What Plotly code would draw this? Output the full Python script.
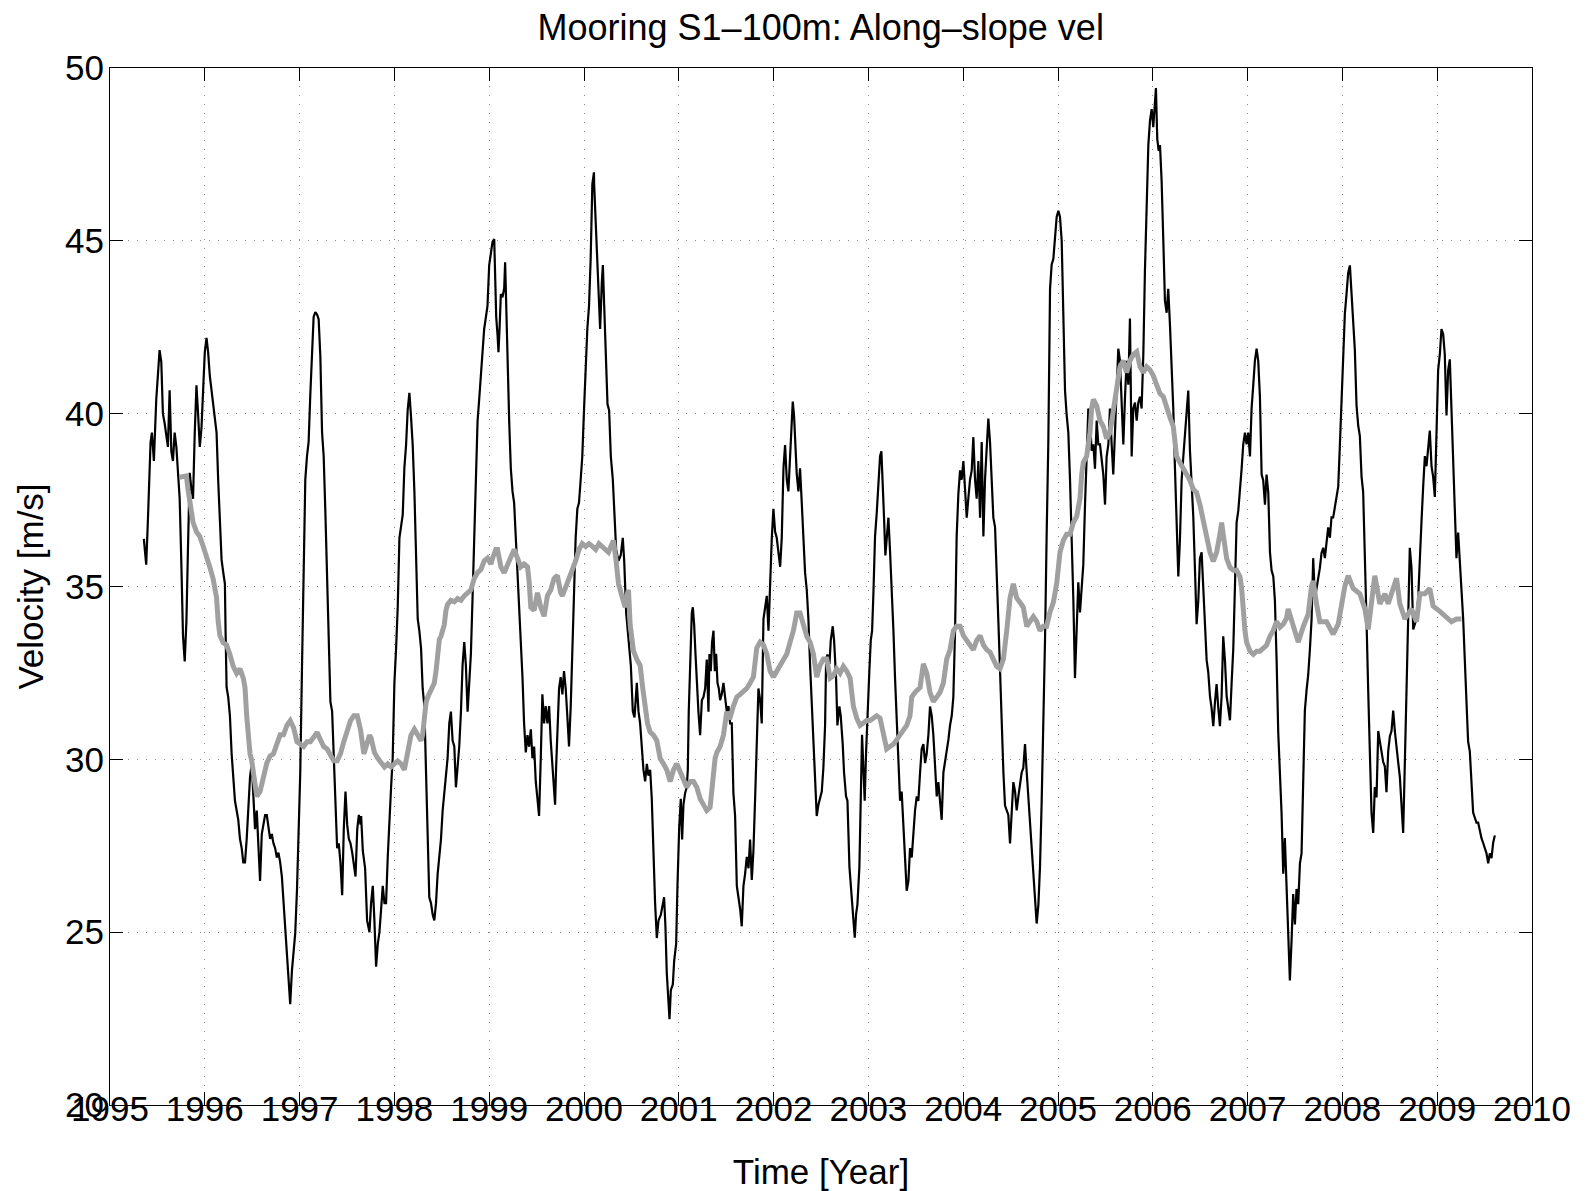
import plotly.graph_objects as go

# ---------------- data ----------------
black_year = [
    1995.357, 1995.382, 1995.399, 1995.428, 1995.442, 1995.463, 1995.488, 1995.523, 1995.541, 1995.558,
    1995.576, 1995.594, 1995.611, 1995.629, 1995.647, 1995.664, 1995.682, 1995.700, 1995.717, 1995.735,
    1995.753, 1995.770, 1995.788, 1995.806, 1995.823, 1995.841, 1995.859, 1995.876, 1995.894, 1995.912,
    1995.929, 1995.947, 1995.965, 1995.982, 1996.000, 1996.018, 1996.035, 1996.053, 1996.071, 1996.088,
    1996.106, 1996.124, 1996.141, 1996.159, 1996.177, 1996.194, 1996.212, 1996.219, 1996.230, 1996.247,
    1996.265, 1996.283, 1996.300, 1996.318, 1996.336, 1996.353, 1996.371, 1996.389, 1996.406, 1996.424,
    1996.442, 1996.459, 1996.477, 1996.495, 1996.512, 1996.530, 1996.548, 1996.565, 1996.583, 1996.601,
    1996.618, 1996.636, 1996.654, 1996.671, 1996.689, 1996.707, 1996.724, 1996.742, 1996.760, 1996.777,
    1996.795, 1996.813, 1996.830, 1996.848, 1996.866, 1996.883, 1996.901, 1996.919, 1996.936, 1996.954,
    1996.972, 1996.989, 1997.007, 1997.025, 1997.042, 1997.060, 1997.078, 1997.095, 1997.113, 1997.131,
    1997.148, 1997.166, 1997.184, 1997.201, 1997.219, 1997.237, 1997.254, 1997.272, 1997.290, 1997.307,
    1997.325, 1997.343, 1997.360, 1997.378, 1997.396, 1997.413, 1997.431, 1997.449, 1997.466, 1997.484,
    1997.502, 1997.519, 1997.537, 1997.555, 1997.572, 1997.590, 1997.608, 1997.625, 1997.643,
    1997.649, 1997.667, 1997.691, 1997.712, 1997.737, 1997.754, 1997.772, 1997.789, 1997.807, 1997.825,
    1997.842, 1997.860, 1997.877, 1997.895, 1997.912, 1997.930, 1997.947, 1997.965, 1997.982, 1998.000,
    1998.018, 1998.035, 1998.053, 1998.070, 1998.088, 1998.105, 1998.123, 1998.140, 1998.158, 1998.175,
    1998.193, 1998.211, 1998.228, 1998.246, 1998.263, 1998.281, 1998.298, 1998.316, 1998.333, 1998.351,
    1998.368, 1998.386, 1998.404, 1998.421, 1998.439, 1998.456, 1998.474, 1998.491, 1998.509, 1998.526,
    1998.544, 1998.561, 1998.579, 1998.596, 1998.614, 1998.632, 1998.649, 1998.667, 1998.684, 1998.702,
    1998.719, 1998.737, 1998.754, 1998.772, 1998.789, 1998.807, 1998.825, 1998.842, 1998.860, 1998.877,
    1998.895, 1998.912, 1998.930, 1998.947, 1998.965, 1998.982, 1999.000, 1999.018, 1999.035, 1999.053,
    1999.063, 1999.074, 1999.088, 1999.098, 1999.109, 1999.123, 1999.140, 1999.158, 1999.168, 1999.179,
    1999.193, 1999.211, 1999.228, 1999.246, 1999.263, 1999.281, 1999.298, 1999.316, 1999.333, 1999.351,
    1999.368, 1999.386, 1999.404, 1999.421, 1999.439, 1999.456, 1999.474, 1999.491, 1999.509, 1999.526,
    1999.544, 1999.561, 1999.579, 1999.596, 1999.614, 1999.632, 1999.649, 1999.667, 1999.684, 1999.695,
    1999.705, 1999.719, 1999.737, 1999.754, 1999.772, 1999.789, 1999.807, 1999.825, 1999.842, 1999.860,
    1999.877, 1999.895, 1999.912, 1999.930, 1999.947, 1999.965, 1999.982, 2000.000, 2000.018, 2000.035,
    2000.053, 2000.070, 2000.088, 2000.105,
    2000.107, 2000.135, 2000.153, 2000.170, 2000.188, 2000.199, 2000.213, 2000.230, 2000.248, 2000.265,
    2000.283, 2000.304, 2000.318, 2000.339, 2000.364, 2000.388, 2000.409, 2000.424, 2000.445, 2000.469,
    2000.494, 2000.515, 2000.533, 2000.557, 2000.575, 2000.592, 2000.610, 2000.627, 2000.645, 2000.663,
    2000.680, 2000.698, 2000.715, 2000.733, 2000.750, 2000.768, 2000.786, 2000.810, 2000.831, 2000.845,
    2000.859, 2000.873, 2000.891, 2000.902, 2000.916, 2000.937, 2000.951, 2000.972, 2000.986, 2001.004,
    2001.021, 2001.035, 2001.049, 2001.067, 2001.084, 2001.095, 2001.105, 2001.120, 2001.137, 2001.148,
    2001.162, 2001.176, 2001.190, 2001.207, 2001.225, 2001.243, 2001.260, 2001.278, 2001.295, 2001.313,
    2001.323, 2001.337, 2001.351, 2001.366, 2001.380, 2001.394, 2001.408, 2001.422, 2001.436, 2001.453,
    2001.471, 2001.489, 2001.506, 2001.524, 2001.541, 2001.559, 2001.576, 2001.594, 2001.612, 2001.629,
    2001.647, 2001.664, 2001.682, 2001.699, 2001.717, 2001.735, 2001.752, 2001.770, 2001.787, 2001.805,
    2001.822, 2001.840, 2001.858, 2001.875, 2001.893, 2001.910, 2001.928, 2001.946, 2001.963, 2001.981,
    2001.998, 2002.016, 2002.033, 2002.051, 2002.069, 2002.086, 2002.104, 2002.121, 2002.139, 2002.156,
    2002.174, 2002.192, 2002.202, 2002.216, 2002.230, 2002.244, 2002.262, 2002.279, 2002.297, 2002.315,
    2002.332, 2002.350, 2002.367, 2002.385, 2002.402, 2002.420, 2002.438, 2002.455, 2002.473, 2002.490,
    2002.508, 2002.525, 2002.543, 2002.554, 2002.568, 2002.589, 2002.603, 2002.624, 2002.638, 2002.659,
    2002.673, 2002.694, 2002.708, 2002.729, 2002.743, 2002.764, 2002.779, 2002.800, 2002.814, 2002.828,
    2002.842, 2002.856, 2002.870, 2002.884, 2002.905, 2002.919, 2002.933, 2002.947, 2002.961, 2002.975,
    2002.989, 2003.011, 2003.025, 2003.039, 2003.053, 2003.070, 2003.088, 2003.105, 2003.123, 2003.137,
    2003.151, 2003.165, 2003.179, 2003.193, 2003.211, 2003.228, 2003.246, 2003.264, 2003.281, 2003.299,
    2003.316, 2003.334, 2003.351, 2003.369, 2003.387, 2003.404, 2003.422, 2003.439, 2003.457, 2003.475,
    2003.492, 2003.510, 2003.527, 2003.545, 2003.562, 2003.580, 2003.598, 2003.615, 2003.633, 2003.650,
    2003.668, 2003.685, 2003.703, 2003.721, 2003.738, 2003.756, 2003.773, 2003.791, 2003.808, 2003.826,
    2003.844, 2003.861, 2003.879, 2003.896, 2003.914, 2003.931, 2003.949, 2003.967, 2003.984, 2004.002,
    2004.019, 2004.037, 2004.054, 2004.072, 2004.090, 2004.107, 2004.125, 2004.142, 2004.160, 2004.178,
    2004.195, 2004.213, 2004.230, 2004.248, 2004.265, 2004.283, 2004.301, 2004.318, 2004.336, 2004.353,
    2004.371, 2004.388, 2004.406, 2004.424, 2004.441, 2004.459, 2004.476, 2004.494, 2004.511, 2004.529,
    2004.547, 2004.564, 2004.582, 2004.599, 2004.617, 2004.634, 2004.652, 2004.670, 2004.687, 2004.705,
    2004.722, 2004.740, 2004.757, 2004.775, 2004.793, 2004.810, 2004.828, 2004.845, 2004.863, 2004.880,
    2004.898,
    2004.916, 2004.933, 2004.951, 2004.968, 2004.986, 2005.004, 2005.021, 2005.039, 2005.056, 2005.074,
    2005.091, 2005.109, 2005.127, 2005.144, 2005.162, 2005.179, 2005.197, 2005.214, 2005.232, 2005.250,
    2005.267, 2005.285, 2005.302, 2005.320, 2005.337, 2005.355, 2005.373, 2005.390, 2005.408, 2005.425,
    2005.443, 2005.460, 2005.478, 2005.496, 2005.513, 2005.531, 2005.548, 2005.566, 2005.583, 2005.601,
    2005.619, 2005.636, 2005.654, 2005.671, 2005.689, 2005.707, 2005.724, 2005.742, 2005.759, 2005.777,
    2005.794, 2005.812, 2005.830, 2005.847, 2005.865, 2005.882, 2005.900, 2005.917, 2005.935, 2005.953,
    2005.970, 2005.988, 2006.005, 2006.023, 2006.033, 2006.047, 2006.062, 2006.076, 2006.093, 2006.111,
    2006.128, 2006.146, 2006.163, 2006.181, 2006.199, 2006.216, 2006.234, 2006.251, 2006.269, 2006.286,
    2006.304, 2006.322, 2006.339, 2006.357, 2006.374, 2006.392, 2006.409, 2006.427, 2006.445, 2006.462,
    2006.480, 2006.497, 2006.515, 2006.533, 2006.550, 2006.568, 2006.585, 2006.603, 2006.620, 2006.638,
    2006.656, 2006.673, 2006.691, 2006.708, 2006.726, 2006.743, 2006.761, 2006.779, 2006.796, 2006.814,
    2006.831, 2006.849, 2006.866, 2006.884, 2006.902, 2006.919, 2006.937, 2006.954, 2006.972, 2006.989,
    2007.007, 2007.025, 2007.042, 2007.060, 2007.077, 2007.095, 2007.112, 2007.130, 2007.148, 2007.165,
    2007.183, 2007.200, 2007.218, 2007.236, 2007.253, 2007.271, 2007.288, 2007.306, 2007.323,
    2007.358, 2007.376, 2007.393, 2007.411, 2007.428, 2007.446, 2007.464, 2007.481, 2007.499, 2007.516,
    2007.534, 2007.552, 2007.569, 2007.587, 2007.604, 2007.622, 2007.639, 2007.657, 2007.675, 2007.692,
    2007.710, 2007.727, 2007.745, 2007.762, 2007.780, 2007.798, 2007.815, 2007.833, 2007.850, 2007.868,
    2007.885, 2007.903, 2007.921, 2007.938, 2007.956, 2007.973, 2007.991, 2008.008, 2008.026, 2008.044,
    2008.061, 2008.079, 2008.096, 2008.114, 2008.131, 2008.149, 2008.167, 2008.184, 2008.202, 2008.219,
    2008.237, 2008.254, 2008.272, 2008.290, 2008.307, 2008.325, 2008.342, 2008.360, 2008.378, 2008.395,
    2008.413, 2008.430, 2008.448, 2008.465, 2008.483, 2008.501, 2008.518, 2008.536, 2008.553, 2008.571,
    2008.588, 2008.606, 2008.624, 2008.641, 2008.659, 2008.676, 2008.694, 2008.711, 2008.729, 2008.747,
    2008.764, 2008.782, 2008.799, 2008.817, 2008.834, 2008.852, 2008.870, 2008.887, 2008.905, 2008.922,
    2008.940, 2008.957, 2008.975, 2008.993, 2009.010, 2009.028, 2009.045, 2009.063, 2009.080, 2009.098,
    2009.116, 2009.133, 2009.151, 2009.168, 2009.186, 2009.203, 2009.221, 2009.239, 2009.256, 2009.274,
    2009.291, 2009.309, 2009.326, 2009.344, 2009.362, 2009.379, 2009.397, 2009.414, 2009.432, 2009.450,
    2009.467, 2009.485, 2009.502, 2009.520, 2009.538, 2009.555, 2009.573, 2009.590, 2009.608,
]

black_vel = [
    36.38, 35.63, 36.86, 39.18, 39.45, 38.63, 40.41, 41.84, 41.50, 40.00,
    39.73, 39.32, 39.04, 40.68, 38.91, 38.63, 39.45, 39.04, 38.36, 37.54,
    35.63, 33.58, 32.83, 33.99, 36.17, 38.29, 37.81, 37.54, 39.45, 40.82,
    40.00, 39.04, 39.59, 40.82, 41.78, 42.19, 41.78, 41.09, 40.68, 40.14,
    39.86, 39.45, 38.09, 36.86, 35.77, 35.42, 35.08, 33.72, 32.08, 31.80,
    31.26, 30.16, 29.34, 28.80, 28.52, 28.25, 27.70, 27.43, 27.02, 27.02,
    27.70, 28.66, 29.48, 29.89, 28.93, 27.98, 28.52, 27.43, 26.48, 27.84,
    28.11, 28.39, 28.39, 28.11, 27.70, 27.84, 27.57, 27.43, 27.16, 27.30,
    27.02, 26.61, 25.93, 25.25, 24.43, 23.88, 22.92, 23.88, 24.43, 24.97,
    26.20, 27.57, 29.62, 32.62, 35.63, 38.09, 38.77, 39.18, 40.55, 41.91,
    42.80, 42.94, 42.87, 42.73, 41.64, 39.45, 38.77, 37.13, 35.08, 33.17,
    31.67, 31.39, 30.03, 28.25, 27.43, 27.57, 27.02, 26.07, 27.98, 29.07,
    28.11, 27.70, 27.57, 27.30, 26.89, 26.61, 27.98, 28.39, 28.11,
    28.36, 27.35, 26.85, 25.34, 25.00, 25.84, 26.34, 25.34, 24.00, 24.66,
    25.00, 25.67, 26.34, 25.84, 25.84, 27.18, 28.36, 29.19, 30.03, 32.21,
    33.22, 34.40, 36.41, 36.74, 37.08, 38.42, 39.09, 40.10, 40.60, 39.93,
    39.09, 37.75, 36.07, 34.06, 33.72, 33.22, 32.05, 31.54, 29.70, 28.02,
    26.01, 25.84, 25.50, 25.34, 25.84, 26.68, 27.18, 27.68, 28.52, 29.03,
    29.70, 30.03, 31.04, 31.38, 30.54, 30.37, 29.19, 29.70, 30.37, 31.38,
    32.72, 33.39, 32.72, 31.38, 32.05, 33.05, 34.73, 36.41, 38.09, 39.77,
    40.44, 41.11, 41.78, 42.45, 42.79, 43.12, 44.30, 44.63, 44.97, 45.05,
    43.96, 42.79, 42.28, 41.78, 42.45, 43.46, 43.37, 43.62, 44.38, 43.12,
    41.44, 39.77, 38.42, 37.75, 37.42, 36.41, 35.40, 34.40, 33.56, 32.38,
    31.04, 30.20, 30.70, 30.37, 30.87, 30.03, 30.37, 29.36, 28.86, 28.36,
    30.03, 31.88, 31.04, 31.54, 31.04, 31.54, 30.54, 29.70, 28.86, 28.69,
    29.70, 31.04, 32.05, 32.38, 31.88, 32.55, 32.05, 31.21, 30.37, 31.54,
    33.05, 35.07, 36.41, 37.25, 37.42, 38.09, 38.76, 40.10, 41.44, 42.45,
    43.12, 44.46, 46.64, 46.98,
    46.64, 44.80, 43.29, 42.45, 43.79, 44.30, 43.12, 41.44, 40.27, 40.10,
    38.76, 38.09, 37.42, 36.07, 35.74, 35.91, 36.41, 35.74, 34.23, 33.39,
    32.72, 31.38, 31.21, 32.21, 31.38, 31.04, 30.37, 29.70, 29.36, 29.87,
    29.53, 29.70, 28.86, 27.01, 25.84, 24.83, 25.34, 25.50, 25.84, 26.01,
    25.17, 23.83, 22.99, 22.48, 23.32, 23.49, 24.16, 24.66, 26.34, 28.02,
    28.86, 27.68, 28.69, 29.03, 29.19, 29.70, 31.38, 33.05, 34.23, 34.40,
    33.89, 33.05, 32.21, 31.38, 30.70, 31.71, 31.80, 32.05, 32.89, 31.38,
    33.05, 32.55, 33.39, 33.72, 32.55, 33.05, 32.21, 32.05, 31.71, 31.88,
    32.21, 31.71, 31.38, 31.54, 31.04, 31.04, 29.03, 28.36, 26.34, 26.01,
    25.67, 25.17, 26.34, 26.68, 27.18, 26.85, 27.68, 26.51, 27.35, 28.86,
    30.37, 32.05, 31.71, 31.04, 34.06, 34.40, 34.73, 33.72, 35.40, 36.41,
    37.25, 36.58, 36.41, 35.91, 35.57, 36.41, 38.42, 39.09, 38.09, 37.75,
    38.76, 39.93, 40.35, 39.93, 38.93, 38.26, 37.75, 38.42, 37.42, 36.41,
    35.40, 34.90, 34.06, 32.72, 31.71, 30.54, 29.70, 28.36, 28.69, 28.86,
    29.07, 29.75, 30.98, 32.90, 33.03, 32.76, 33.44, 33.85, 33.44, 32.35,
    30.98, 31.53, 31.26, 30.44, 29.62, 28.93, 28.80, 26.89, 26.34, 25.93,
    25.52, 24.84, 25.52, 25.79, 26.89, 28.80, 30.71, 29.75, 28.80, 30.16,
    31.26, 32.62, 33.44, 33.72, 34.81, 36.45, 37.13, 37.81, 38.77, 38.91,
    38.09, 36.99, 35.90, 36.45, 36.99, 36.04, 35.08, 33.72, 32.35, 30.98,
    29.62, 28.80, 29.07, 27.98, 26.89, 26.20, 26.48, 27.43, 27.16, 27.98,
    28.52, 28.93, 28.80, 29.62, 30.30, 30.44, 29.89, 30.16, 30.71, 31.53,
    31.26, 30.71, 29.62, 28.93, 29.34, 28.80, 28.25, 29.62, 29.89, 30.16,
    30.57, 30.98, 31.26, 31.80, 33.72, 36.45, 37.68, 38.36, 38.09, 38.63,
    37.81, 36.99, 37.54, 38.09, 38.36, 39.32, 38.09, 37.54, 38.63, 36.99,
    39.18, 36.45, 38.09, 38.91, 39.86, 39.18, 38.09, 36.99, 36.72, 35.63,
    33.99, 32.62, 30.98, 29.62, 28.66, 28.52, 28.39, 27.57, 28.52, 29.34,
    29.07, 28.52, 28.93, 29.34, 29.62, 29.75, 30.44, 29.62, 28.93, 28.25,
    27.57, 26.89, 26.07, 25.25, 25.79, 26.89, 28.80, 30.98, 33.44, 36.45,
    39.18,
    43.61, 44.31, 44.48, 45.17, 45.69, 45.87, 45.69, 45.00, 42.92, 40.67,
    39.97, 39.45, 38.07, 36.68, 34.60, 32.35, 33.56, 35.12, 34.25, 34.95,
    35.64, 37.37, 38.76, 40.15, 39.80, 38.93, 39.11, 38.41, 39.80, 39.11,
    39.11, 38.59, 38.24, 37.37, 38.76, 39.11, 40.15, 39.11, 38.24, 39.45,
    40.49, 41.88, 41.53, 40.49, 39.11, 40.49, 41.53, 40.84, 42.75, 38.76,
    40.15, 40.32, 39.80, 40.32, 40.49, 40.15, 41.71, 44.13, 46.21, 47.77,
    48.47, 48.81, 48.29, 49.16, 49.42, 47.95, 47.60, 47.77, 46.73, 45.00,
    43.27, 42.92, 43.61, 42.57, 41.53, 40.15, 38.41, 36.68, 35.29, 36.33,
    38.07, 38.76, 39.45, 40.15, 40.67, 38.93, 38.07, 37.03, 35.47, 33.91,
    34.60, 35.81, 35.99, 34.95, 33.73, 32.87, 32.52, 31.83, 31.48, 30.96,
    31.66, 32.18, 31.48, 30.96, 31.83, 33.56, 32.87, 31.83, 31.48, 31.13,
    32.18, 33.21, 34.95, 36.85, 37.20, 37.72, 38.41, 39.11, 39.45, 39.11,
    39.45, 38.76, 40.15, 40.84, 41.53, 41.88, 41.53, 40.49, 38.24, 38.07,
    37.37, 38.24, 37.72, 35.99, 35.47, 35.29, 34.60, 32.87, 30.79,
    28.46, 26.69, 27.72, 26.40, 24.93, 23.60, 24.78, 26.10, 25.22, 26.25,
    25.81, 26.99, 27.28, 29.93, 31.41, 32.00, 32.44, 33.17, 34.06, 35.82,
    34.65, 34.94, 35.24, 35.53, 35.97, 36.12, 35.82, 36.41, 36.71, 36.41,
    37.00, 37.00, 37.30, 37.59, 37.89, 39.06, 40.24, 41.72, 42.89, 43.48,
    44.07, 44.29, 43.48, 42.45, 41.86, 40.24, 39.65, 39.36, 38.18, 37.74,
    36.12, 34.06, 32.00, 30.23, 28.46, 27.87, 29.20, 28.90, 30.82, 30.52,
    30.23, 29.93, 29.79, 29.05, 30.23, 30.67, 30.82, 31.41, 30.82, 30.23,
    29.93, 29.49, 28.46, 27.87, 29.93, 32.00, 34.06, 36.12, 35.53, 33.76,
    33.91, 34.06, 34.65, 35.97, 36.86, 37.89, 38.77, 38.48, 39.06, 39.51,
    38.48, 38.18, 37.59, 39.95, 41.27, 41.72, 42.45, 42.30, 41.72, 39.95,
    41.27, 41.57, 39.95, 38.77, 37.30, 35.82, 36.56, 35.82, 35.09, 34.06,
    32.88, 31.55, 30.52, 30.23, 29.20, 28.46, 28.31, 28.17, 28.17, 27.87,
    27.72, 27.58, 27.43, 27.28, 26.99, 27.28, 27.14, 27.58, 27.80,
]

gray_year = [
    1995.735, 1995.806, 1995.823, 1995.841, 1995.876, 1995.912, 1995.947, 1995.982, 1996.018, 1996.053,
    1996.088, 1996.124, 1996.141, 1996.159, 1996.194, 1996.230, 1996.265, 1996.300, 1996.336, 1996.371,
    1996.406, 1996.424, 1996.442, 1996.459, 1996.477, 1996.495, 1996.530, 1996.548, 1996.583, 1996.618,
    1996.654, 1996.689, 1996.724, 1996.760, 1996.795, 1996.830, 1996.866, 1996.901, 1996.936, 1996.972,
    1997.007, 1997.042, 1997.078, 1997.113, 1997.148, 1997.184, 1997.219, 1997.254, 1997.290, 1997.325,
    1997.360, 1997.396, 1997.431, 1997.466, 1997.502, 1997.537, 1997.572, 1997.608, 1997.643, 1997.678,
    1997.702, 1997.719, 1997.737, 1997.754, 1997.789, 1997.825, 1997.860, 1997.895, 1997.930, 1997.965,
    1998.000, 1998.035, 1998.070, 1998.105, 1998.140, 1998.175, 1998.211, 1998.246, 1998.281, 1998.298,
    1998.316, 1998.333, 1998.351, 1998.386, 1998.421, 1998.439, 1998.456, 1998.474, 1998.491, 1998.526,
    1998.544, 1998.561, 1998.596, 1998.632, 1998.667, 1998.702, 1998.737, 1998.772, 1998.807, 1998.842,
    1998.877, 1998.912, 1998.947, 1998.982, 1999.018, 1999.035, 1999.053, 1999.070, 1999.088, 1999.105,
    1999.123, 1999.158, 1999.193, 1999.228, 1999.263, 1999.298, 1999.333, 1999.368, 1999.404, 1999.421,
    1999.439, 1999.474, 1999.509, 1999.544, 1999.579, 1999.614, 1999.649, 1999.684, 1999.719, 1999.754,
    1999.772, 1999.807, 1999.842, 1999.877, 1999.912, 1999.947, 1999.982, 2000.018, 2000.053, 2000.088,
    2000.123, 2000.158, 2000.188, 2000.223, 2000.258, 2000.283, 2000.311, 2000.339, 2000.364, 2000.399,
    2000.434, 2000.452, 2000.469, 2000.487, 2000.504, 2000.522, 2000.557, 2000.592, 2000.620, 2000.645,
    2000.670, 2000.698, 2000.733, 2000.768, 2000.803, 2000.838, 2000.873, 2000.909, 2000.944, 2000.979,
    2001.007, 2001.032, 2001.049, 2001.084, 2001.120, 2001.155, 2001.190, 2001.225, 2001.260, 2001.295,
    2001.330, 2001.348, 2001.366, 2001.383, 2001.401, 2001.436, 2001.471, 2001.489, 2001.506, 2001.524,
    2001.541, 2001.576, 2001.612, 2001.647, 2001.682, 2001.717, 2001.752, 2001.787, 2001.822, 2001.858,
    2001.893, 2001.928, 2001.963, 2001.998, 2002.033, 2002.069, 2002.104, 2002.139, 2002.174, 2002.209,
    2002.244, 2002.279, 2002.315, 2002.350, 2002.385, 2002.420, 2002.455, 2002.490, 2002.525, 2002.561,
    2002.596, 2002.631, 2002.666, 2002.701, 2002.736, 2002.772, 2002.807, 2002.842, 2002.877, 2002.912,
    2002.947, 2002.982, 2003.018, 2003.053, 2003.088, 2003.123, 2003.158, 2003.193, 2003.228, 2003.264,
    2003.299, 2003.334, 2003.369, 2003.404, 2003.439, 2003.457, 2003.492, 2003.545, 2003.580, 2003.615,
    2003.650, 2003.685, 2003.721, 2003.756, 2003.791, 2003.826, 2003.861, 2003.896, 2003.931, 2003.967,
    2004.002, 2004.037, 2004.072, 2004.107, 2004.142, 2004.178, 2004.213, 2004.248, 2004.283, 2004.318,
    2004.353, 2004.388, 2004.424, 2004.459, 2004.494, 2004.529, 2004.564, 2004.599, 2004.634, 2004.670,
    2004.705, 2004.740, 2004.775, 2004.810, 2004.845, 2004.880, 2004.915, 2004.951, 2004.986, 2005.021,
    2005.056, 2005.091, 2005.127, 2005.162, 2005.197, 2005.232, 2005.250, 2005.267, 2005.302, 2005.337,
    2005.355, 2005.373, 2005.408, 2005.443, 2005.478, 2005.513, 2005.548, 2005.583, 2005.619, 2005.654,
    2005.689, 2005.724, 2005.759, 2005.794, 2005.830, 2005.865, 2005.900, 2005.935, 2005.970, 2006.005,
    2006.040, 2006.076, 2006.111, 2006.146, 2006.181, 2006.216, 2006.251, 2006.286, 2006.322, 2006.357,
    2006.392, 2006.427, 2006.462, 2006.497, 2006.533, 2006.568, 2006.603, 2006.638, 2006.673, 2006.708,
    2006.726, 2006.743, 2006.779, 2006.814, 2006.849, 2006.884, 2006.919, 2006.937, 2006.954, 2006.972,
    2006.989, 2007.025, 2007.060, 2007.095, 2007.130, 2007.165, 2007.200, 2007.236, 2007.271, 2007.306,
    2007.341, 2007.376, 2007.411, 2007.428, 2007.481, 2007.534, 2007.587, 2007.639, 2007.675, 2007.692,
    2007.727, 2007.762, 2007.833, 2007.903, 2007.956, 2007.991, 2008.026, 2008.061, 2008.114, 2008.184,
    2008.237, 2008.272, 2008.307, 2008.342, 2008.395, 2008.448, 2008.483, 2008.518, 2008.571, 2008.606,
    2008.659, 2008.729, 2008.782, 2008.817, 2008.870, 2008.922, 2008.957, 2009.028, 2009.098, 2009.151,
    2009.203, 2009.256,
]

gray_vel = [
    38.16, 38.20, 37.81, 37.40, 36.86, 36.58, 36.45, 36.17, 35.90, 35.56,
    35.22, 34.67, 33.99, 33.58, 33.37, 33.31, 33.03, 32.69, 32.49, 32.62,
    32.35, 32.08, 31.26, 30.44, 30.16, 29.96, 29.34, 28.93, 29.07, 29.48,
    29.89, 30.10, 30.16, 30.44, 30.71, 30.71, 30.98, 31.12, 30.92, 30.51,
    30.44, 30.37, 30.51, 30.51, 30.64, 30.78, 30.57, 30.37, 30.30, 30.10,
    29.96, 29.96, 30.16, 30.51, 30.85, 31.12, 31.26, 31.26, 30.85, 30.16,
    30.37, 30.54, 30.70, 30.62, 30.20, 30.03, 29.87, 29.78, 29.87, 29.78,
    29.87, 29.95, 29.87, 29.70, 30.20, 30.70, 30.87, 30.70, 30.54, 30.70,
    31.38, 31.63, 31.80, 32.05, 32.21, 32.55, 33.22, 33.47, 33.56, 33.89,
    34.31, 34.48, 34.60, 34.56, 34.65, 34.60, 34.73, 34.82, 34.90, 35.23,
    35.40, 35.49, 35.74, 35.82, 35.65, 35.82, 35.99, 36.07, 36.07, 35.82,
    35.57, 35.40, 35.65, 35.82, 36.07, 35.82, 35.57, 35.65, 35.57, 35.15,
    34.40, 34.31, 34.82, 34.40, 34.14, 34.73, 34.90, 35.23, 35.32, 34.82,
    34.73, 34.98, 35.23, 35.40, 35.74, 36.07, 36.24, 36.16, 36.24, 36.16,
    36.07, 36.24, 36.16, 36.07, 35.99, 36.16, 36.33, 35.74, 35.07, 34.73,
    34.40, 34.73, 34.90, 33.89, 33.39, 33.14, 32.89, 32.72, 32.05, 31.54,
    31.04, 30.79, 30.70, 30.54, 30.03, 29.87, 29.70, 29.36, 29.70, 29.87,
    29.70, 29.53, 29.36, 29.19, 29.36, 29.36, 29.19, 28.86, 28.69, 28.52,
    28.61, 29.19, 29.87, 30.03, 30.20, 30.37, 30.70, 31.04, 31.38, 31.21,
    31.21, 31.54, 31.80, 31.88, 31.96, 32.05, 32.21, 32.38, 33.22, 33.39,
    33.31, 33.05, 32.55, 32.38, 32.55, 32.72, 32.89, 33.05, 33.39, 33.72,
    34.23, 34.23, 33.89, 33.56, 33.39, 33.05, 32.38, 32.72, 32.90, 32.90,
    32.35, 32.42, 32.62, 32.49, 32.69, 32.55, 32.35, 31.53, 31.19, 30.98,
    31.05, 31.12, 31.12, 31.19, 31.26, 31.19, 30.71, 30.30, 30.37, 30.44,
    30.57, 30.71, 30.85, 30.98, 31.26, 31.80, 31.94, 32.08, 32.76, 32.49,
    31.94, 31.67, 31.80, 31.94, 32.21, 32.90, 33.17, 33.72, 33.85, 33.85,
    33.58, 33.44, 33.31, 33.17, 33.44, 33.58, 33.31, 33.17, 33.10, 32.90,
    32.69, 32.62, 32.90, 33.72, 34.67, 35.08, 34.67, 34.54, 34.40, 33.85,
    33.99, 34.13, 33.99, 33.72, 33.85, 33.85, 34.26, 34.54, 35.08, 35.99,
    36.33, 36.51, 36.51, 36.85, 37.03, 37.55, 38.24, 38.59, 38.76, 39.45,
    40.15, 40.41, 40.23, 39.80, 39.63, 39.28, 39.45, 40.15, 40.84, 41.36,
    41.53, 41.19, 41.53, 41.71, 41.79, 41.36, 41.19, 41.36, 41.27, 41.10,
    40.84, 40.58, 40.49, 40.15, 39.89, 39.63, 38.76, 38.59, 38.41, 38.24,
    38.07, 37.81, 37.72, 37.37, 36.85, 36.33, 35.99, 35.73, 35.99, 36.51,
    36.85, 36.51, 35.81, 35.55, 35.47, 35.47, 35.29, 34.95, 34.25, 33.73,
    33.39, 33.13, 33.04, 33.13, 33.13, 33.21, 33.30, 33.56, 33.73, 33.99,
    33.82, 33.91, 34.08, 34.35, 33.91, 33.39, 33.84, 34.20, 35.01, 35.16,
    34.50, 33.98, 33.98, 33.62, 33.91, 34.50, 35.01, 35.31, 34.94, 34.79,
    34.35, 33.76, 34.50, 35.31, 34.50, 34.79, 34.50, 34.79, 35.24, 34.50,
    34.06, 34.35, 33.98, 34.79, 34.79, 34.94, 34.43, 34.28, 34.13, 33.98,
    34.06, 34.06,
]

x_ticks = [1995, 1996, 1997, 1998, 1999, 2000, 2001, 2002, 2003, 2004,
           2005, 2006, 2007, 2008, 2009, 2010]
y_ticks = [20, 25, 30, 35, 40, 45, 50]

title_text = "Mooring S1\u2013100m: Along\u2013slope vel"
x_label = "Time [Year]"
y_label = "Velocity [m/s]"

# ---------------- figure ----------------
FONT = "Liberation Sans, Arial, Helvetica, sans-serif"

fig = go.Figure()
fig.add_trace(go.Scatter(
    x=black_year, y=black_vel, mode="lines",
    line=dict(color="#000000", width=2.2), showlegend=False, hoverinfo="skip"))
fig.add_trace(go.Scatter(
    x=gray_year, y=gray_vel, mode="lines",
    line=dict(color="#a0a0a0", width=5), showlegend=False, hoverinfo="skip"))

axis_common = dict(
    showline=True, linecolor="#000000", linewidth=1, mirror="ticks",
    ticks="inside", ticklen=13, tickwidth=1, tickcolor="#000000",
    showgrid=True, gridcolor="#8c8c8c", gridwidth=1, griddash="1px,8px",
    zeroline=False, automargin=False,
    tickfont=dict(family=FONT, size=35, color="#000000"),
)

fig.update_xaxes(
    range=[1995, 2010], tickvals=x_ticks, ticktext=[str(t) for t in x_ticks],
    ticklabelstandoff=-27,
    title=dict(text=x_label, font=dict(family=FONT, size=35, color="#000000"), standoff=32),
    **axis_common)
fig.update_yaxes(
    range=[20, 50], tickvals=y_ticks, ticktext=[str(t) for t in y_ticks],
    ticklabelstandoff=-2,
    title=dict(text=y_label, font=dict(family=FONT, size=35, color="#000000"), standoff=10),
    **axis_common)

fig.update_layout(
    width=1589, height=1191,
    margin=dict(l=110, r=57, t=68, b=86, pad=0),
    paper_bgcolor="#ffffff", plot_bgcolor="#ffffff",
    title=dict(text=title_text, x=0.5165, xanchor="center", y=0.977, yanchor="middle",
               yref="container", font=dict(family=FONT, size=36, color="#000000")),
    font=dict(family=FONT, color="#000000"),
)

fig.write_html("out.html")
